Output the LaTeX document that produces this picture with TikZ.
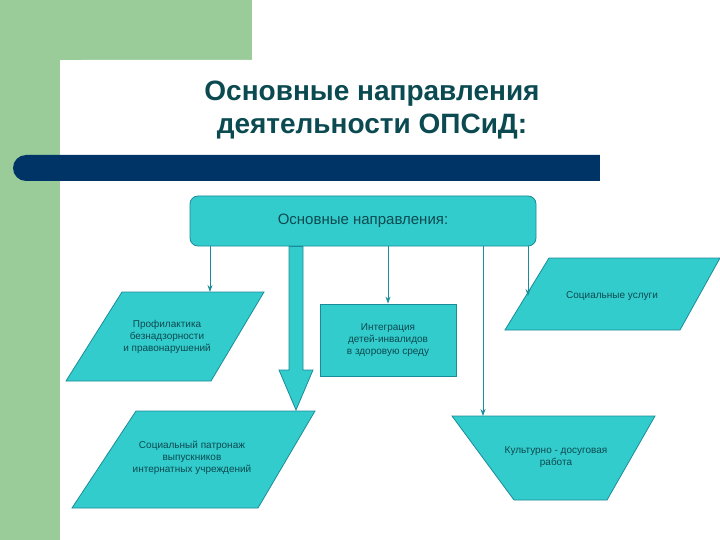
\documentclass[tikz,border=0pt]{standalone}
\usepackage{fontspec}
\setmainfont{Liberation Sans}
\usetikzlibrary{arrows.meta}
\definecolor{bg}{HTML}{99CC99}
\definecolor{bar}{HTML}{003366}
\definecolor{boxf}{HTML}{33CCCC}
\definecolor{boxd}{HTML}{1A8C99}
\definecolor{tx}{HTML}{0B4A50}
\tikzset{
 shp/.style={fill=boxf,draw=boxd,line width=0.8pt},
 lbl/.style={text=tx,font=\fontsize{10}{12}\selectfont,align=center},
 thin/.style={draw=boxd,line width=0.8pt,-{Stealth[length=7pt,width=5pt,fill=boxf]}}
}
\begin{document}
\begin{tikzpicture}[x=1pt,y=-1pt]
\useasboundingbox (0,0) rectangle (720,540);
\fill[bg] (0,0) rectangle (252,60);
\fill[bg] (0,0) rectangle (60,540);
\begin{scope}
\clip (0,0) rectangle (720,540);
\fill[white,rounded corners=22pt] (60,60) rectangle (780,600);
\end{scope}
\fill[bar,rounded corners=13pt] (13,155) rectangle (640,181);
\fill[white] (600,150) rectangle (720,190);
\node[text=tx,font=\bfseries\fontsize{28}{33}\selectfont,align=center] (title) at (372,110) {Основные направления\\деятельности ОПСиД:};
\node[shp,rounded corners=8pt,minimum width=346pt,minimum height=50pt,text=tx,font=\fontsize{15}{18}\selectfont] (main) at (363,221) {Основные направления:};
% shapes
\draw[shp] (122,292) -- (264,292) -- (211,381) -- (66,381) -- cycle;
\node[lbl] (prof) at (167,337) {Профилактика\\безнадзорности\\ и правонарушений};
\node[shp,minimum width=136pt,minimum height=72pt] (integ) at (388,340) {};
\node[lbl] (integt) at (388,340) {Интеграция\\детей-инвалидов\\в здоровую среду};
\draw[shp] (549,258) -- (720,258) -- (680,330) -- (505,330) -- cycle;
\node[lbl] (soc) at (612,296) {Социальные услуги};
\draw[shp] (136,411) -- (315,411) -- (258,508) -- (72,508) -- cycle;
\node[lbl] (patr) at (192,458) {Социальный патронаж\\выпускников\\ интернатных учреждений};
\draw[shp] (452,416) -- (655,416) -- (607,500) -- (514,500) -- cycle;
\node[lbl] (kult) at (556,457) {Культурно - досуговая\\работа};
\coordinate (pt) at (210,292);
\coordinate (kt) at (483,416);
\coordinate (st) at (528,296);
\coordinate (bt) at (296,410);
% connectors
\draw[thin] (main.south -| pt) -- (pt);
\draw[thin] (main.south -| integ) -- (integ.north);
\draw[thin] (main.south -| kt) -- (kt);
\draw[thin] (main.south -| st) -- (st);
\draw[shp] (main.south -| 289,0) -- (289,370) -- (279,370) -- (bt) -- (313,370) -- (303,370) -- (main.south -| 303,0) -- cycle;
\end{tikzpicture}
\end{document}
